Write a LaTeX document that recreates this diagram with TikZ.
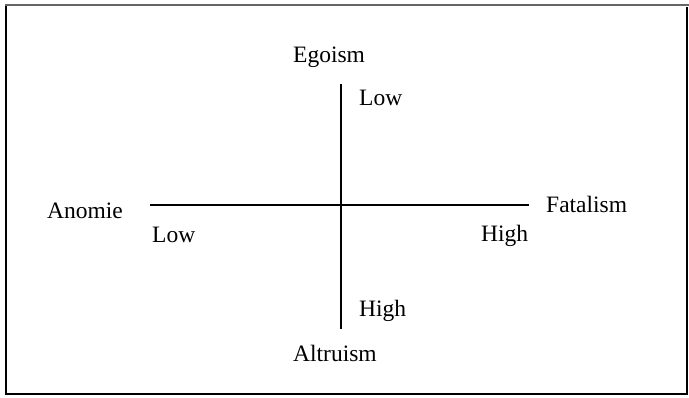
\documentclass[tikz,border=0pt]{standalone}
\usepackage{fontspec}
\setmainfont{Liberation Serif}
\begin{document}
\begin{tikzpicture}[x=1pt,y=-1pt,
  lbl/.style={anchor=base west,inner sep=0pt,font=\fontsize{23.5}{26}\selectfont},
  axis/.style={line width=2.2pt,black}]
\useasboundingbox (0,0) rectangle (689,397);
% frame
\coordinate (tl) at (6,5);
\coordinate (tr) at (689,5);
\coordinate (bl) at (6,394);
\coordinate (br) at (687,394);
\coordinate (rt) at (687,7);
\draw[line width=2pt,gray!80!black] (5,5) -- (tr);
\draw[line width=2pt,black] (6,6) -- (bl) -- (br) -- (rt);
% axes
\coordinate (L) at (150,205);
\coordinate (R) at (529,205);
\coordinate (T) at (341,84);
\coordinate (B) at (341,329);
\draw[axis] (L) -- (R);
\draw[axis] (T) -- (B);
% labels
\node[lbl] (ego) at (293,62) {Egoism};
\node[lbl] (lowt) at (359,105) {Low};
\node[lbl] (ano) at (47,218) {Anomie};
\node[lbl] (lowl) at (152,242) {Low};
\node[lbl] (fat) at (546,212) {Fatalism};
\node[lbl] (highr) at (481,241) {High};
\node[lbl] (highb) at (359,316) {High};
\node[lbl] (alt) at (293,361) {Altruism};
\end{tikzpicture}
\end{document}
